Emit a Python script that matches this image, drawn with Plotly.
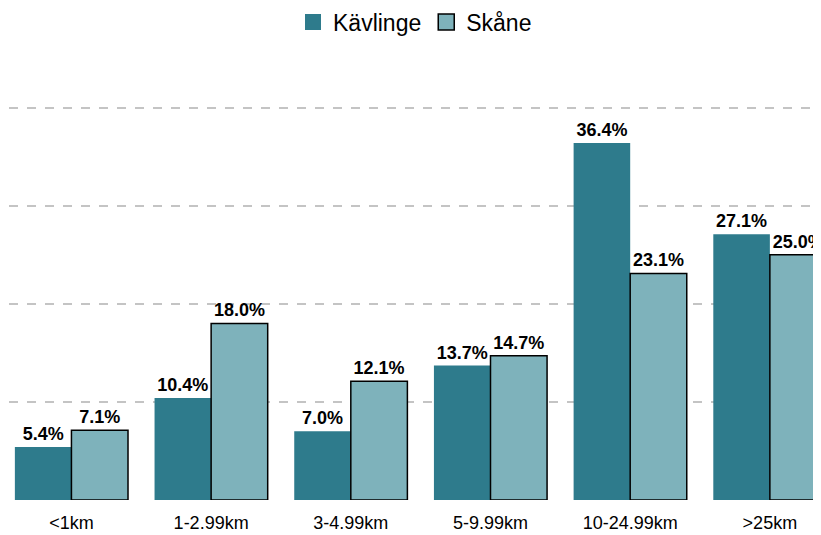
import plotly.graph_objects as go

# distance bands and shares (%)
categories = ["<1km", "1-2.99km", "3-4.99km", "5-9.99km", "10-24.99km", ">25km"]
kavlinge = [5.4, 10.4, 7.0, 13.7, 36.4, 27.1]
skane = [7.1, 18.0, 12.1, 14.7, 23.1, 25.0]
y_gridlines = [0, 10, 20, 30, 40]

dark = "#2e7b8c"
light = "#7eb2bb"

fig = go.Figure()

fig.add_trace(go.Bar(
    x=categories, y=kavlinge, name="Kävlinge",
    marker=dict(color=dark, line=dict(width=0)),
    text=[f"{v:.1f}%" for v in kavlinge], textposition="outside",
    textfont=dict(family="Liberation Sans, Arial", size=18, color="black", weight="bold"),
    cliponaxis=False, showlegend=False,
))
fig.add_trace(go.Bar(
    x=categories, y=skane, name="Skåne",
    marker=dict(color=light, line=dict(width=1.5, color="black")),
    text=[f"{v:.1f}%" for v in skane], textposition="outside",
    textfont=dict(family="Liberation Sans, Arial", size=18, color="black", weight="bold"),
    cliponaxis=False, showlegend=False,
))

# legend entries with bigger square swatches
fig.add_trace(go.Scatter(x=[None], y=[None], mode="markers", name="Kävlinge",
                         marker=dict(symbol="square", size=18, color=dark)))
fig.add_trace(go.Scatter(x=[None], y=[None], mode="markers", name="Skåne",
                         marker=dict(symbol="square", size=17, color=light,
                                     line=dict(width=1.5, color="black"))))

# page body adds an 8px offset, so the figure is sized to fit the window
fig.update_layout(
    width=813, height=527,
    template="none",
    barmode="group", bargap=0.19, bargroupgap=0,
    plot_bgcolor="white", paper_bgcolor="white",
    margin=dict(l=1, r=0, t=52, b=35),
    font=dict(family="Liberation Sans, Arial", color="black"),
    legend=dict(orientation="h", x=0.5, xanchor="center",
                yref="container", y=1 - 14 / 527, yanchor="middle",
                font=dict(size=23), itemwidth=30),
    xaxis=dict(range=[-0.447, 5.366], showgrid=False, zeroline=False,
               showline=False, ticks="outside", ticklen=6,
               tickcolor="rgba(0,0,0,0)", tickfont=dict(size=18),
               automargin=False),
    yaxis=dict(range=[0, 44.85], tickvals=y_gridlines, showticklabels=False,
               showgrid=True, gridcolor="#c4c4c4", gridwidth=1.5, griddash="dash",
               zeroline=False, showline=False, automargin=False),
)

fig.write_html("out.html")
